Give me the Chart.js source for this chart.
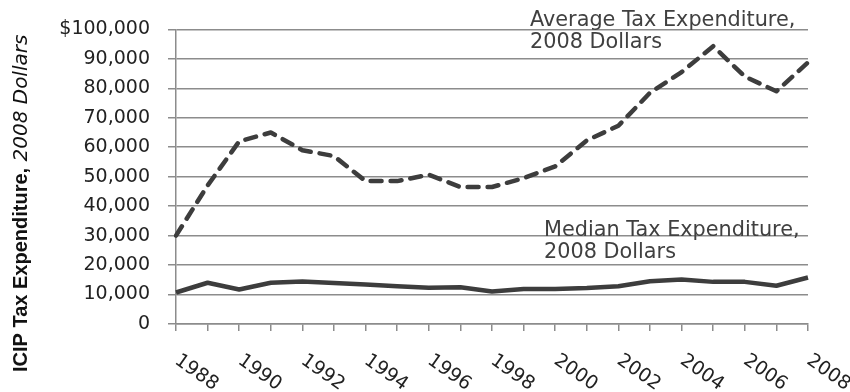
<!DOCTYPE html>
<html>
<head>
<meta charset="utf-8">
<script src="https://cdn.jsdelivr.net/npm/chart.js@4.4.1/dist/chart.umd.min.js"></script>
<style>
  html, body { margin: 0; padding: 0; background: #fff; }
  #wrap { position: relative; width: 850px; height: 392px; }
</style>
</head>
<body>
<div id="wrap"><canvas id="taxChart" width="850" height="392"></canvas></div>
<script>
// data (2008 dollars)
const years = ["1988","1989","1990","1991","1992","1993","1994","1995","1996","1997","1998",
               "1999","2000","2001","2002","2003","2004","2005","2006","2007","2008"];
const averageExp = [30000, 47000, 62000, 65000, 59000, 57000, 48500, 48500, 50700, 46500, 46500,
                    49500, 53500, 62300, 67300, 78500, 85500, 94300, 84000, 79000, 88800];
const medianExp = [10700, 14000, 11700, 14000, 14400, 13900, 13400, 12800, 12300, 12500, 11000,
                   11900, 11900, 12200, 12800, 14500, 15100, 14300, 14300, 13000, 15800];
const yTicks = [0, 10000, 20000, 30000, 40000, 50000, 60000, 70000, 80000, 90000, 100000];
const labelEvery = 2;

const avgNote = ["Average Tax Expenditure,", "2008 Dollars"];
const medNote = ["Median Tax Expenditure,", "2008 Dollars"];
const yTitleBold = "ICIP Tax Expenditure,";
const yTitleItalic = " 2008 Dollars";

const lineColor = '#3d3d3d';
const gridColor = '#8c8c8c';
const fontMain = '"DejaVu Sans", sans-serif';

// draws the rotated year labels, the series notes and the mixed-style axis title
const extrasPlugin = {
    id: 'extras',
    afterDraw(chart) {
        const ctx = chart.ctx;
        const xs = chart.scales.x;

        ctx.save();
        ctx.fillStyle = '#222';
        ctx.font = '19px ' + fontMain;
        ctx.textAlign = 'left';
        ctx.textBaseline = 'top';
        years.forEach((yr, i) => {
            if (i % labelEvery) return;
            const px = xs.getPixelForValue(i);
            ctx.save();
            ctx.translate(px + 6, 351);
            ctx.rotate(35 * Math.PI / 180);
            ctx.fillText(yr, 0, 0);
            ctx.restore();
        });
        ctx.restore();

        // series notes
        ctx.save();
        ctx.fillStyle = '#404040';
        ctx.font = '20.8px ' + fontMain;
        ctx.textBaseline = 'alphabetic';
        ctx.fillText(avgNote[0], 530, 26);
        ctx.fillText(avgNote[1], 530, 48);
        ctx.fillText(medNote[0], 544, 236);
        ctx.fillText(medNote[1], 544, 258);
        ctx.restore();

        // y axis title, bold + italic parts
        ctx.save();
        ctx.fillStyle = '#111';
        ctx.translate(27, 372);
        ctx.rotate(-Math.PI / 2);
        ctx.textBaseline = 'alphabetic';
        ctx.font = 'bold 20px "Liberation Sans", Arial, sans-serif';
        ctx.fillText(yTitleBold, 0, 0);
        const w = ctx.measureText(yTitleBold).width;
        ctx.font = 'italic 20px ' + fontMain;
        ctx.fillText(yTitleItalic, w, 0);
        ctx.restore();
    }
};

const ctx = document.getElementById('taxChart').getContext('2d');
new Chart(ctx, {
    type: 'line',
    data: {
        labels: years,
        datasets: [
            {
                label: 'Average Tax Expenditure, 2008 Dollars',
                data: averageExp,
                borderColor: lineColor,
                borderWidth: 4.5,
                borderDash: [11, 9],
                borderCapStyle: 'round',
                borderJoinStyle: 'round',
                pointRadius: 0,
                tension: 0,
                fill: false
            },
            {
                label: 'Median Tax Expenditure, 2008 Dollars',
                data: medianExp,
                borderColor: lineColor,
                borderWidth: 4.5,
                borderJoinStyle: 'round',
                pointRadius: 0,
                tension: 0,
                fill: false
            }
        ]
    },
    options: {
        responsive: false,
        animation: false,
        layout: { padding: { top: 26, right: 42, left: 0, bottom: 0 } },
        plugins: {
            legend: { display: false },
            tooltip: { enabled: false }
        },
        scales: {
            x: {
                offset: false,
                grid: {
                    drawOnChartArea: false,
                    drawTicks: true,
                    tickLength: 7,
                    color: gridColor,
                    lineWidth: 1.5
                },
                border: { color: gridColor, width: 1.5 },
                ticks: { display: false, autoSkip: false },
                afterFit(scale) { scale.height = 68; }
            },
            y: {
                min: 0,
                max: 100000,
                afterBuildTicks(scale) {
                    scale.ticks = yTicks.map(v => ({ value: v }));
                },
                grid: {
                    color: gridColor,
                    lineWidth: 1.5,
                    tickLength: 8
                },
                border: { color: gridColor, width: 1.5 },
                ticks: {
                    padding: 18,
                    color: '#222',
                    font: { family: fontMain, size: 19 },
                    callback(v) {
                        const s = Number(v).toLocaleString('en-US');
                        return v === 100000 ? '$' + s : s;
                    }
                },
                afterFit(scale) { scale.width = 176; }
            }
        }
    },
    plugins: [extrasPlugin]
});
</script>
</body>
</html>
